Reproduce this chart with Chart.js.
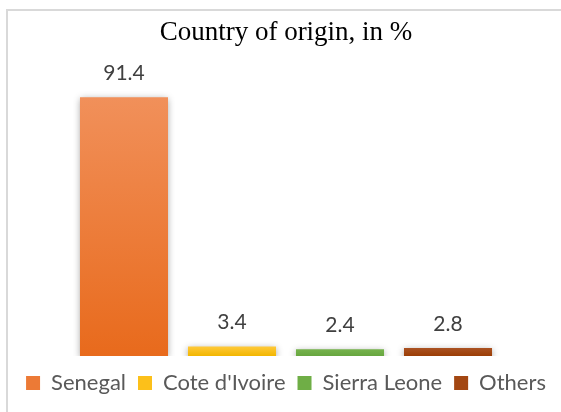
<!DOCTYPE html>
<html>
<head>
<meta charset="utf-8">
<script src="https://cdn.jsdelivr.net/npm/chart.js@4.4.1/dist/chart.umd.min.js"></script>
<style>
  html, body { margin: 0; padding: 0; background: #ffffff; width: 561px; height: 412px; overflow: hidden; }
  #frame { position: absolute; left: 6px; top: 9px; width: 640px; height: 480px; border: 2px solid #d9d9d9; box-sizing: border-box; }
  #chart { position: absolute; left: 0; top: 0; }
</style>
</head>
<body>
<div id="frame"></div>
<canvas id="chart" width="561" height="412"></canvas>
<script>
// Data: share of respondents by country of origin (%)
const categories = ['Country of origin'];
const seriesNames = ['Senegal', "Cote d'Ivoire", 'Sierra Leone', 'Others'];
const seriesValues = [91.4, 3.4, 2.4, 2.8];
const titleText = 'Country of origin, in %';

// Fill colours (gradient top -> bottom) for each series
const fillTop    = ['#f1905a', '#ffc93a', '#76b34d', '#aa5222'];
const fillBottom = ['#e86a1c', '#f2b600', '#67a63f', '#9b3d05'];
const legendFill = ['#ec7a36', '#fcc01a', '#6fae46', '#a34712'];

function barGradient(i) {
  return (ctx) => {
    const chart = ctx.chart;
    if (!chart.chartArea || ctx.raw === undefined) return legendFill[i];
    const y = chart.scales.y;
    const top = y.getPixelForValue(ctx.raw);
    const base = y.getPixelForValue(0);
    const g = chart.ctx.createLinearGradient(0, top, 0, base);
    g.addColorStop(0, fillTop[i]);
    g.addColorStop(1, fillBottom[i]);
    return g;
  };
}

// Soft drop shadow behind each bar
const barShadow = {
  id: 'barShadow',
  beforeDatasetDraw(chart) {
    const c = chart.ctx;
    c.save();
    c.shadowColor = 'rgba(0,0,0,0.38)';
    c.shadowBlur = 7;
    c.shadowOffsetX = 0;
    c.shadowOffsetY = 2;
  },
  afterDatasetDraw(chart) {
    chart.ctx.restore();
  }
};

// Value labels above the bars
const valueLabels = {
  id: 'valueLabels',
  afterDatasetsDraw(chart) {
    const c = chart.ctx;
    c.save();
    c.font = '21px Lato';
    c.fillStyle = '#404040';
    c.textAlign = 'center';
    c.textBaseline = 'alphabetic';
    chart.data.datasets.forEach((ds, i) => {
      const meta = chart.getDatasetMeta(i);
      meta.data.forEach((bar, j) => {
        c.fillText(ds.data[j].toFixed(1), bar.x, bar.y - 17.5);
      });
    });
    c.restore();
  }
};

// Invisible axis pieces
const blankAxis = {
  grid: { display: false },
  border: { display: false },
  ticks: { display: false }
};

const datasets = seriesNames.map((name, i) => ({
  label: name,
  data: [seriesValues[i]],
  backgroundColor: barGradient(i),
  borderWidth: 0,
  barPercentage: 0.815,
  categoryPercentage: 0.7855
}));

new Chart(document.getElementById('chart'), {
  type: 'bar',
  data: { labels: categories, datasets },
  plugins: [barShadow, valueLabels],
  options: {
    responsive: false,
    animation: false,
    devicePixelRatio: 1,
    layout: { padding: { left: 11, right: 0, top: 0, bottom: 8 } },
    scales: {
      x: { ...blankAxis, afterFit(s) { s.height = 4; } },
      y: { display: false, min: 0, max: 100 }
    },
    plugins: {
      tooltip: { enabled: false },
      title: {
        display: true,
        text: titleText,
        color: '#000000',
        font: { family: "'Liberation Serif', 'Times New Roman', serif", size: 27, weight: 'normal' },
        padding: { top: 17, bottom: 23.6 }
      },
      legend: {
        position: 'bottom',
        labels: {
          color: '#595959',
          font: { family: 'Lato', size: 22 },
          boxWidth: 14,
          boxHeight: 14,
          padding: 12,
          generateLabels(chart) {
            return chart.data.datasets.map((ds, i) => ({
              text: ds.label,
              fillStyle: legendFill[i],
              strokeStyle: legendFill[i],
              lineWidth: 0,
              hidden: false,
              datasetIndex: i,
              fontColor: '#595959'
            }));
          }
        }
      }
    }
  }
});
</script>
</body>
</html>
